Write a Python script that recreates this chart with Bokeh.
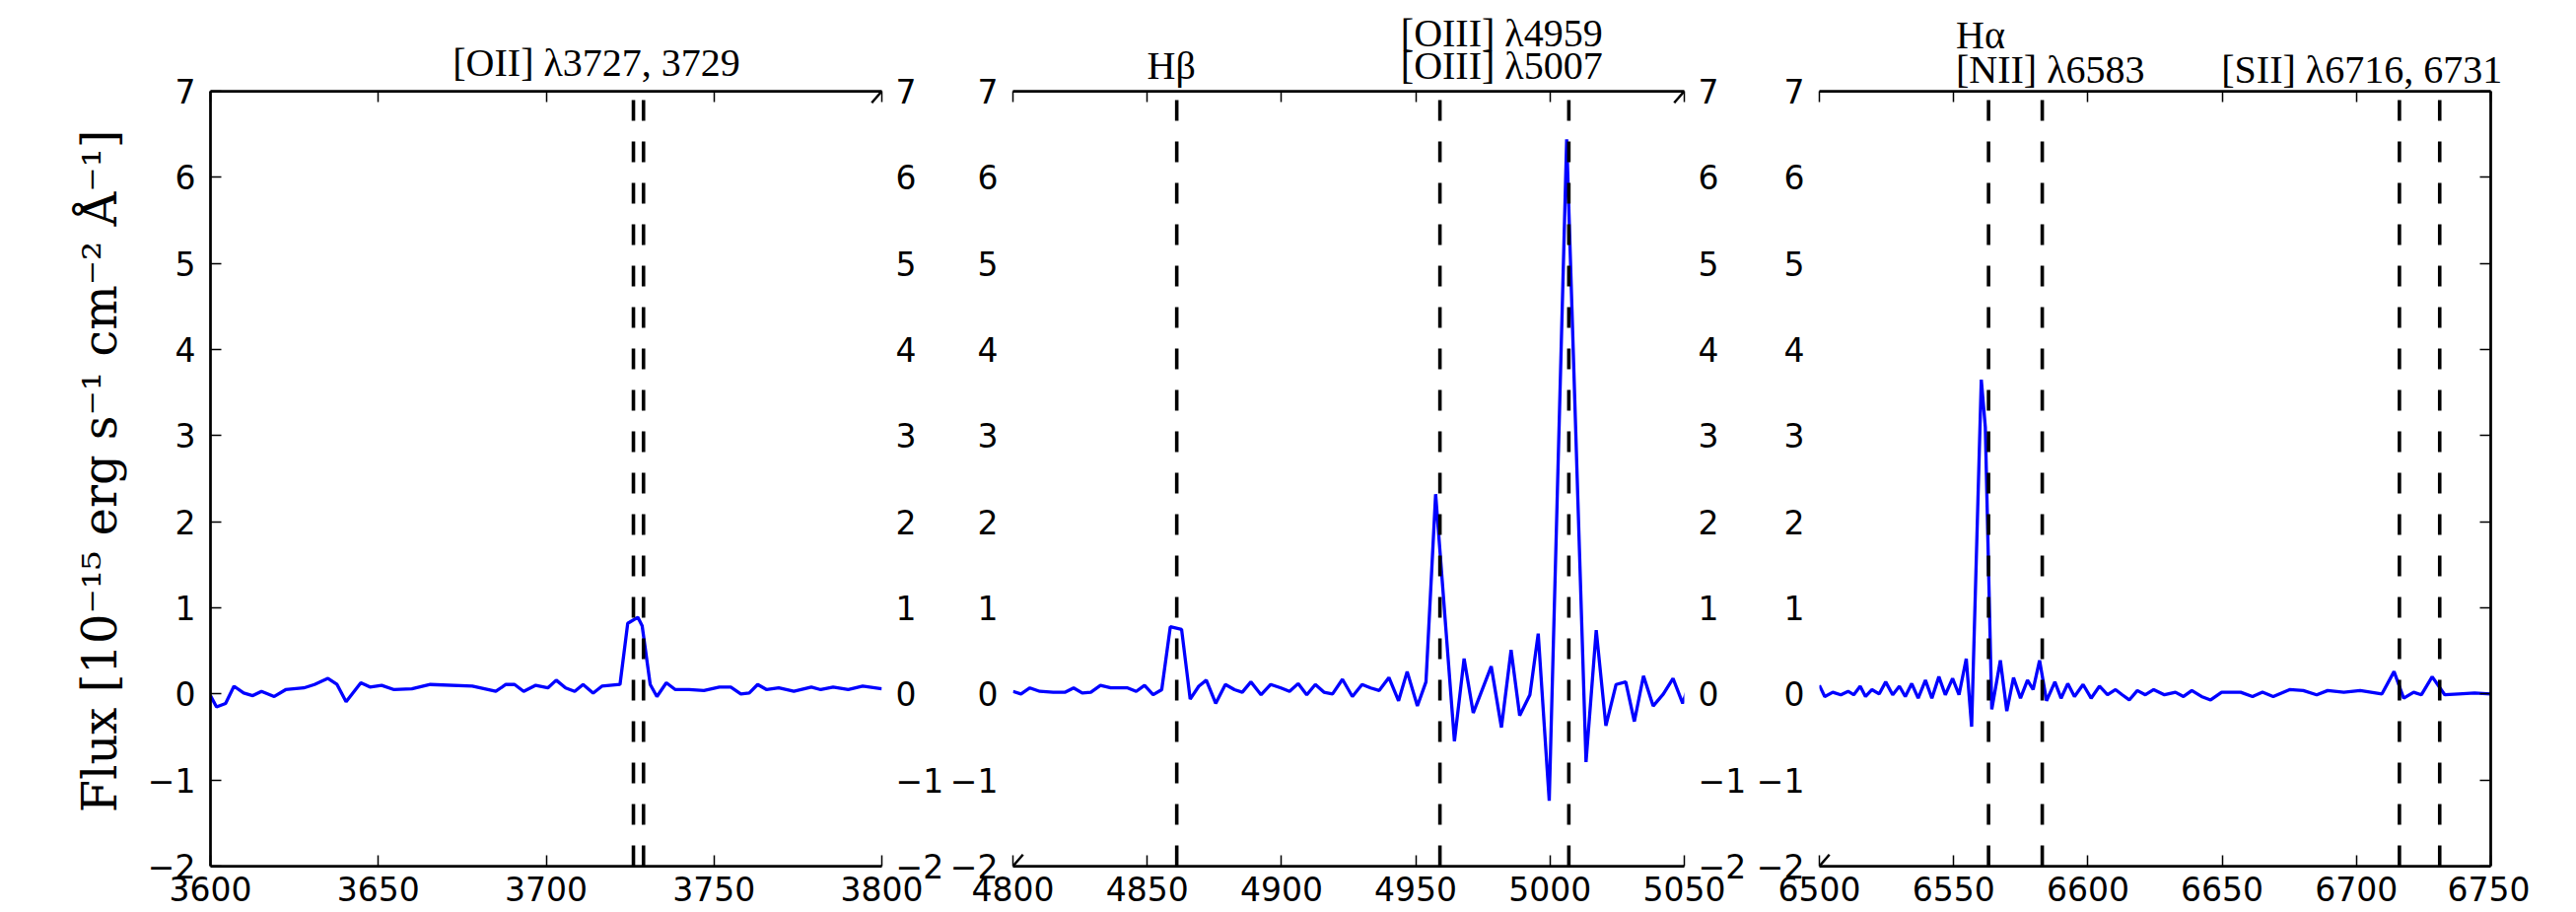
from bokeh.plotting import figure
from bokeh.models import LinearAxis, FixedTicker, Range1d, Arrow
from bokeh.layouts import row
from bokeh.embed import file_html
from bokeh.resources import INLINE

# ---------------- data ----------------
wave_oii = [3600, 3601.8, 3604.5, 3607, 3609.9, 3612.6, 3615.2, 3619, 3622.4, 3627.8, 3631, 3635,
            3637.7, 3640.4, 3644.8, 3647.5, 3651, 3654.7, 3660, 3665.5, 3678, 3685, 3688, 3690.6,
            3693.3, 3696.9, 3700.5, 3703, 3705.8, 3708.5, 3711, 3714, 3716.6, 3722, 3724.3, 3727.3,
            3728.6, 3731, 3733, 3735.8, 3738.5, 3742.6, 3747, 3751.6, 3755, 3758, 3760.5, 3763,
            3765.7, 3769.3, 3773.8, 3779, 3781.8, 3785.5, 3790, 3794.3, 3800]
flux_oii = [-0.02, -0.15, -0.11, 0.09, 0.01, -0.02, 0.03, -0.03, 0.05, 0.07, 0.11, 0.18,
            0.11, -0.09, 0.13, 0.08, 0.1, 0.05, 0.06, 0.11, 0.09, 0.03, 0.11, 0.11,
            0.03, 0.1, 0.07, 0.16, 0.07, 0.03, 0.11, 0.01, 0.09, 0.11, 0.82, 0.89,
            0.79, 0.11, -0.03, 0.13, 0.05, 0.05, 0.04, 0.08, 0.08, 0.0, 0.01, 0.11,
            0.05, 0.07, 0.03, 0.08, 0.05, 0.08, 0.05, 0.09, 0.06]

wave_hb = [4800, 4803, 4806.3, 4810, 4815, 4819.5, 4822.6, 4825.8, 4829, 4832.6, 4836.4, 4842.7,
           4845.9, 4849, 4852.2, 4855.4, 4858.6, 4862.8, 4866, 4869.2, 4872, 4875.5, 4879.1, 4882.5,
           4885.4, 4888.6, 4892.4, 4896, 4899.8, 4903, 4906.2, 4909.4, 4912.6, 4915.8, 4919, 4922.7,
           4926.4, 4930, 4933.2, 4936.4, 4940, 4943.6, 4946.8, 4950.6, 4953.8, 4957.4, 4964.4, 4968,
           4971.4, 4978.1, 4981.9, 4985.5, 4988.7, 4992.5, 4995.6, 4999.7, 5006.2, 5013.4, 5017.2,
           5020.8, 5024.6, 5028.2, 5031.4, 5034.8, 5038.4, 5042.2, 5045.8, 5049.4, 5051]
flux_hb = [0.03, 0.0, 0.07, 0.03, 0.02, 0.02, 0.07, 0.01, 0.02, 0.1, 0.07, 0.07,
           0.03, 0.1, -0.01, 0.05, 0.78, 0.75, -0.06, 0.09, 0.16, -0.11, 0.11, 0.05,
           0.02, 0.14, -0.01, 0.11, 0.07, 0.03, 0.12, -0.01, 0.11, 0.02, 0.0, 0.17,
           -0.03, 0.11, 0.07, 0.04, 0.19, -0.08, 0.26, -0.14, 0.14, 2.32, -0.55, 0.41,
           -0.22, 0.32, -0.39, 0.51, -0.25, -0.01, 0.70, -1.24, 6.44, -0.79, 0.74,
           -0.37, 0.11, 0.14, -0.32, 0.21, -0.14, 0.0, 0.18, -0.11, 0.04]

wave_ha = [6500, 6502, 6505, 6508, 6510.7, 6512.8, 6515.2, 6517.2, 6519.6, 6522.3, 6524.7, 6527.3,
           6529.8, 6532, 6534.4, 6536.8, 6539.5, 6541.9, 6544.5, 6546.9, 6549.6, 6552, 6554.7, 6556.7,
           6560.3, 6561.8, 6564.2, 6567.4, 6569.8, 6572.3, 6574.9, 6577.5, 6579.6, 6582, 6584.6, 6587.7,
           6590, 6592.5, 6595, 6598.2, 6601.2, 6604.3, 6607.3, 6610.3, 6612.8, 6615.4, 6618.4, 6621.4,
           6624.5, 6628.5, 6632.6, 6635.6, 6638.7, 6642.3, 6645.7, 6649.8, 6656.9, 6661.3, 6665, 6669,
           6675.1, 6680.2, 6685.2, 6689.3, 6695.3, 6701.4, 6709.5, 6714, 6717.6, 6721.3, 6724.2, 6728.2,
           6732.9, 6738, 6744, 6750]
flux_ha = [0.1, -0.03, 0.02, -0.01, 0.03, -0.01, 0.09, -0.03, 0.05, 0.0, 0.14, -0.01,
           0.09, -0.03, 0.12, -0.05, 0.16, -0.05, 0.2, -0.01, 0.18, -0.01, 0.41, -0.38,
           3.65, 3.1, -0.18, 0.39, -0.2, 0.19, -0.05, 0.16, 0.05, 0.39, -0.08, 0.14,
           -0.05, 0.12, -0.03, 0.11, -0.05, 0.09, -0.01, 0.05, -0.01, -0.07, 0.04, -0.01,
           0.05, -0.01, 0.02, -0.03, 0.04, -0.03, -0.07, 0.02, 0.02, -0.03, 0.02, -0.03,
           0.05, 0.04, -0.01, 0.04, 0.02, 0.04, 0.0, 0.26, -0.05, 0.02, -0.01, 0.2,
           -0.01, 0.0, 0.01, 0.0]

lines_oii = [3726, 3729]
lines_hb = [4861, 4959, 5007]
lines_ha = [6563, 6583, 6716, 6731]

xrange_oii = (3600, 3800)
xrange_hb = (4800, 5050)
xrange_ha = (6500, 6750)
xticks_oii = [3600, 3650, 3700, 3750, 3800]
xticks_hb = [4800, 4850, 4900, 4950, 5000, 5050]
xticks_ha = [6500, 6550, 6600, 6650, 6700, 6750]
yrange = (-2, 7)
yticks = [-2, -1, 0, 1, 2, 3, 4, 5, 6, 7]

label_text = ["[OII] λ3727, 3729", "Hβ", "[OIII] λ4959", "[OIII] λ5007",
              "Hα", "[NII] λ6583", "[SII] λ6716, 6731"]
label_x = [3715, 4859, 4982, 4982, 6560, 6586, 6702]
label_row = [1, 1, 2, 1, 2, 1, 1]
label_panel = [0, 1, 1, 1, 2, 2, 2]

ylabel = "\u00a0Flux [10⁻¹⁵ erg s⁻¹ cm⁻² Å⁻¹]"

# ---------------- styling ----------------
FW, FH = 681, 786
TOP, BOTTOM = 92, 47
SERIF = "DejaVu Serif"
LABEL_SERIF = "Liberation Serif"
SANS = "DejaVu Sans"


def style_axis(ax, ticks, line=True, tickmarks=True, labels=True, standoff=14):
    ax.ticker = FixedTicker(ticks=ticks)
    ax.axis_line_color = "black" if line else None
    ax.axis_line_width = 2.75
    ax.major_tick_in = 11 if tickmarks else 0
    ax.major_tick_out = 0
    ax.major_tick_line_color = "black" if tickmarks else None
    ax.major_tick_line_width = 1.5
    ax.minor_tick_in = 0
    ax.minor_tick_out = 0
    ax.minor_tick_line_color = None
    ax.major_label_text_font = SANS
    ax.major_label_text_font_size = "33px"
    ax.major_label_text_color = "black"
    ax.major_label_standoff = standoff
    if not labels:
        ax.major_label_overrides = {t: "" for t in ticks}
        ax.major_label_standoff = 0


def label_axis(xs, texts, minor, standoff, line):
    ax = LinearAxis()
    ax.ticker = FixedTicker(ticks=xs, minor_ticks=minor)
    ax.axis_line_color = "black" if line else None
    ax.axis_line_width = 2.75
    ax.major_tick_in = 0
    ax.major_tick_out = 0
    ax.major_tick_line_color = None
    ax.minor_tick_in = 11 if line else 0
    ax.minor_tick_out = 0
    ax.minor_tick_line_color = "black" if line else None
    ax.minor_tick_line_width = 1.5
    ax.major_label_overrides = {x: t for x, t in zip(xs, texts)}
    ax.major_label_text_font = LABEL_SERIF
    ax.major_label_text_font_size = "40px"
    ax.major_label_text_color = "black"
    ax.major_label_standoff = standoff
    return ax


def make_panel(k, xr, xticks, wave, flux, lines, bl, br, left_line, right_line,
               left_labels, right_labels, breaks_left, breaks_right, s1, s2):
    p = figure(x_range=Range1d(*xr), y_range=Range1d(*yrange),
               frame_width=FW, frame_height=FH,
               min_border_left=bl, min_border_right=br,
               min_border_top=TOP, min_border_bottom=BOTTOM,
               output_backend="svg", toolbar_location=None,
               x_axis_location=None, y_axis_location=None)
    p.outline_line_color = None
    p.background_fill_color = "white"
    p.border_fill_color = "white"
    for g in p.grid:
        g.visible = False

    below = LinearAxis()
    style_axis(below, xticks, standoff=10)
    p.add_layout(below, "below")

    # top spine + ticks, carrying the first row of line names
    r1 = [i for i in range(len(label_text)) if label_panel[i] == k and label_row[i] == 1]
    p.add_layout(label_axis([label_x[i] for i in r1], [label_text[i] for i in r1],
                            xticks, s1, True), "above")
    r2 = [i for i in range(len(label_text)) if label_panel[i] == k and label_row[i] == 2]
    if r2:
        p.add_layout(label_axis([label_x[i] for i in r2], [label_text[i] for i in r2],
                                [], s2, False), "above")

    left = LinearAxis()
    style_axis(left, yticks, line=left_line, tickmarks=left_line, labels=left_labels, standoff=15)
    p.add_layout(left, "left")
    right = LinearAxis()
    style_axis(right, yticks, line=right_line, tickmarks=right_line, labels=right_labels, standoff=14)
    p.add_layout(right, "right")

    # spectrum
    p.line(wave, flux, line_color="#0000ff", line_width=3.3)
    # emission line markers
    p.segment(x0=lines, y0=[yrange[0]] * len(lines), x1=lines, y1=[yrange[1]] * len(lines),
              line_color="black", line_width=3.6, line_dash="21 21")

    # broken-axis diagonal marks
    dx = 0.015 * (xr[1] - xr[0])
    dy = 0.015 * (yrange[1] - yrange[0])
    ends = []
    if breaks_left:
        ends.append(xr[0])
    if breaks_right:
        ends.append(xr[1])
    for xe in ends:
        for ye in yrange:
            p.add_layout(Arrow(end=None, x_start=xe - dx, y_start=ye - dy,
                               x_end=xe + dx, y_end=ye + dy,
                               line_color="black", line_width=2.5))
    return p, left


p1, left1 = make_panel(0, xrange_oii, xticks_oii, wave_oii, flux_oii, lines_oii, 213, 65,
                       True, False, True, True, False, True, 7, 0)
p2, _ = make_panel(1, xrange_hb, xticks_hb, wave_hb, flux_hb, lines_hb, 65, 68,
                   False, False, True, True, True, True, 4, -15)
p3, _ = make_panel(2, xrange_ha, xticks_ha, wave_ha, flux_ha, lines_ha, 69, 40,
                   False, True, True, False, True, False, 0, -13)

left1.axis_label = ylabel
left1.axis_label_text_font = SERIF
left1.axis_label_text_font_size = "48px"
left1.axis_label_text_font_style = "normal"
left1.axis_label_text_color = "black"
left1.axis_label_standoff = 18

layout = row(p1, p2, p3, spacing=0)
open("out.html", "w").write(file_html(layout, INLINE))
